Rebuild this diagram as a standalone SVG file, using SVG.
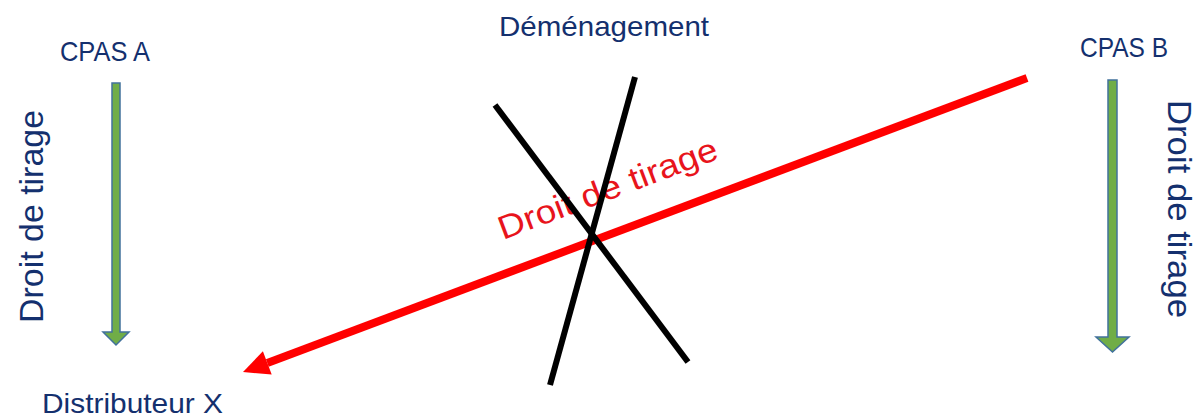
<svg xmlns="http://www.w3.org/2000/svg" width="1198" height="418" viewBox="0 0 1198 418">
  <style>
    .lbl { font-family: "Liberation Sans", Arial, sans-serif; font-size: 28px; fill: #14306E; }
    .big { font-family: "Liberation Sans", Arial, sans-serif; font-size: 33px; fill: #14306E; }
    .red { font-family: "Liberation Sans", Arial, sans-serif; font-size: 33px; fill: #E8141C; }
    .garrow { fill: #70AD47; stroke: #41719C; stroke-width: 1.5; stroke-linejoin: miter; }
    .cross { stroke: #000000; stroke-width: 6; fill: none; }
  </style>
  <rect width="1198" height="418" fill="#FFFFFF"/>

  <g id="demenagement">
    <text class="lbl" x="499" y="36" textLength="210" lengthAdjust="spacingAndGlyphs">Déménagement</text>
  </g>

  <g id="cpas-a">
    <text class="lbl" x="60" y="61" textLength="90" lengthAdjust="spacingAndGlyphs">CPAS A</text>
  </g>

  <g id="cpas-b">
    <text class="lbl" x="1080" y="57" textLength="88" lengthAdjust="spacingAndGlyphs">CPAS B</text>
  </g>

  <g id="distributeur-x">
    <text class="lbl" x="42" y="413" textLength="181" lengthAdjust="spacingAndGlyphs">Distributeur X</text>
  </g>

  <g id="connectors">
    <!-- CPAS A -> Distributeur X -->
    <polygon class="garrow" points="112,83 120,83 120,332 129,332 116,345 103,332 112,332"/>
    <text class="big" transform="translate(43,323) rotate(-90)" textLength="213" lengthAdjust="spacingAndGlyphs">Droit de tirage</text>

    <!-- CPAS B -> down -->
    <polygon class="garrow" points="1108,80 1117,80 1117,337 1129,337 1112.5,352 1096,337 1108,337"/>
    <text class="big" transform="translate(1168,100) rotate(90)" textLength="218" lengthAdjust="spacingAndGlyphs">Droit de tirage</text>

    <!-- CPAS B -> Distributeur X (red, crossed out) -->
    <line x1="1027" y1="78" x2="267.3" y2="362.9" stroke="#FF0000" stroke-width="8"/>
    <polygon points="243,372 262.9,351.2 271.7,374.6" fill="#FF0000"/>
    <text class="red" transform="translate(503,240) rotate(-20.6)" textLength="232" lengthAdjust="spacingAndGlyphs">Droit de tirage</text>

    <!-- cross -->
    <line class="cross" x1="495" y1="105" x2="688" y2="362"/>
    <line class="cross" x1="635" y1="77" x2="550" y2="385"/>
  </g>
</svg>
